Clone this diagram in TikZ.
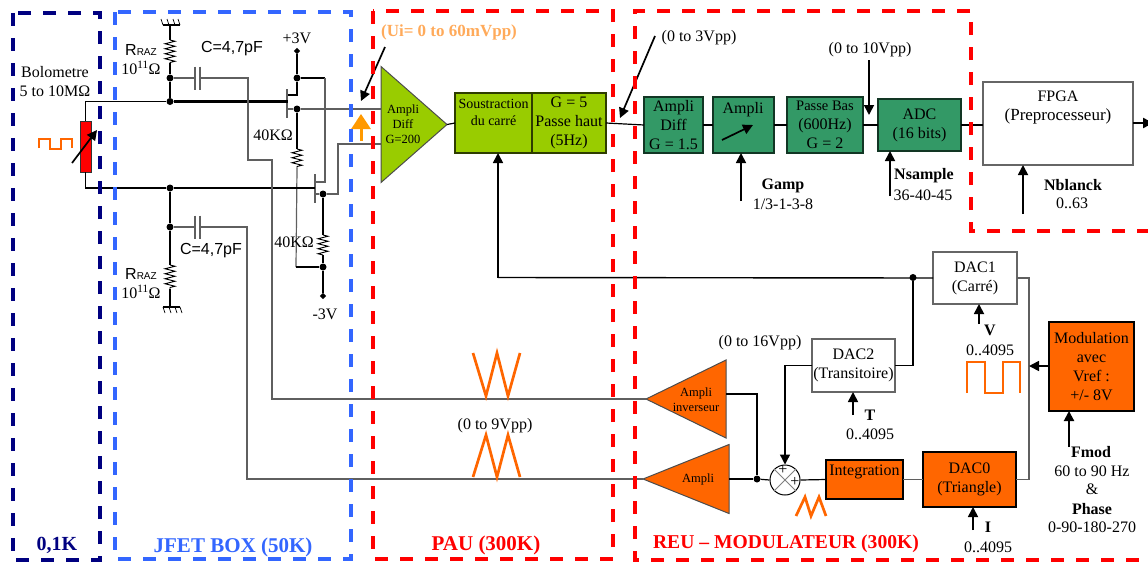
\documentclass[tikz,border=0pt]{standalone}
\usepackage{fontspec}
\setmainfont{Liberation Serif}
\newfontfamily\arialfont{Liberation Sans}
\usetikzlibrary{arrows.meta, positioning, calc, shapes.geometric}
\usetikzlibrary{decorations.pathmorphing}
\definecolor{navyb}{RGB}{0,0,128}
\definecolor{blueb}{RGB}{51,102,255}
\definecolor{limeb}{RGB}{153,204,0}
\definecolor{seag}{RGB}{51,153,102}
\definecolor{orangeb}{RGB}{255,102,0}
\definecolor{amber}{RGB}{255,153,0}
\definecolor{peach}{RGB}{255,170,90}
\definecolor{wire}{RGB}{95,95,95}
\tikzset{
  txt/.style={inner sep=0pt, align=center, font=\fontsize{16}{19}\selectfont},
  txttiny/.style={txt, font=\fontsize{12.5}{15}\selectfont},
  txtb/.style={txt, font=\fontsize{16}{19}\selectfont\bfseries},
  boxlabel/.style={txt, font=\fontsize{21}{23}\selectfont\bfseries},
  block/.style={draw=black!75, line width=1.2pt, rectangle, inner sep=0pt, outer sep=0pt,
    align=center, font=\fontsize{16}{19}\selectfont},
  limeblock/.style={block, fill=limeb, draw=black!70!limeb},
  greenblock/.style={block, fill=seag, draw=black!65!seag},
  orangeblock/.style={block, fill=orangeb, draw=black},
  whiteblock/.style={block, fill=white, draw=black!60},
  tri/.style={isosceles triangle, isosceles triangle stretches, draw=black!70,
    line width=1pt, inner sep=0pt, outer sep=0pt, anchor=apex},
  dashbox/.style={line width=3.6pt, dash pattern=on 13pt off 12pt},
  dot/.style={circle, fill=black, inner sep=0pt, minimum size=7pt},
  rail/.style={diamond, fill=black, inner sep=0pt, minimum size=6.5pt},
  thin wire/.style={line width=1.2pt, draw=wire},
  fine/.style={line width=1.2pt, draw=black},
  heavy/.style={line width=2.2pt, draw=black},
  arrow/.style={-{Triangle[length=10pt,width=10pt]}, line width=1.7pt},
  sawtooth/.style={line width=2.7pt, draw=orangeb},
  resist/.style={decorate, decoration={zigzag, segment length=5pt, amplitude=5pt}, line width=.9pt}
}

\begin{document}
\begin{tikzpicture}[x=1pt, y=-1pt]
\useasboundingbox (0,0) rectangle (1148,563);

% --- Chain of the PAU ---
\node[tri, fill=limeb, minimum height=66pt, minimum width=116pt] (diff) at (447,124.5) {};
\node[txttiny] (difftxt) at (403,124) {Ampli\\Diff\\G=200};
\node[limeblock, minimum width=77pt, minimum height=60pt, anchor=north west, font=\fontsize{14}{17}\selectfont]
  (sous) at (455,93) {Soustraction\\du carré\\\strut};
\node[limeblock, minimum width=74pt, minimum height=60pt, right=0pt of sous] (gfive) {G = 5\\Passe haut\\(5Hz)};

% --- Chain of the REU ---
\node[greenblock, minimum width=59pt, minimum height=56pt, anchor=north west] (adiff) at (644,97) {Ampli\\Diff\\G = 1.5};
\node[greenblock, minimum width=61pt, minimum height=56pt, right=10pt of adiff] (ampli) {};
\node[txt] (amplitxt) at (743,110) {Ampli};
\node[greenblock, minimum width=76pt, minimum height=56pt, right=13pt of ampli] (bas) {{\fontsize{14.5}{19}\selectfont Passe Bas}\\(600Hz)\\G = 2};
\node[greenblock, minimum width=83pt, minimum height=52pt, right=15pt of bas] (adc) {ADC\\(16 bits)};
\node[whiteblock, minimum width=150pt, minimum height=83pt, anchor=north west] (fpga) at (983,82) {};
\node[txt] (fpgatxt) at (1058,108) {FPGA\\\fontsize{17}{19}\selectfont(Preprocesseur)};
\coordinate (fpgaout) at (1153,123);

% --- Modulation ---
\node[whiteblock, minimum width=84pt, minimum height=52pt, anchor=north west] (dacone) at (933,252) {DAC1\\(Carré)};
\node[whiteblock, minimum width=83pt, minimum height=53pt, anchor=north west] (dactwo) at (812,339) {DAC2\\(Transitoire)};
\node[orangeblock, minimum width=93pt, minimum height=55pt, anchor=north west] (daczero) at (923,452) {DAC0\\(Triangle)};
\node[orangeblock, minimum width=77pt, minimum height=39pt, anchor=north west] (integ) at (826,460) {Integration\\[-6pt]\strut};
\node[orangeblock, minimum width=85pt, minimum height=89pt, anchor=north west] (modul) at (1049,322) {Modulation\\avec\\Vref :\\+/- 8V};
\node[circle, draw=black, line width=1pt, fill=white, minimum size=30pt, inner sep=0pt] (mix) at (785,480) {};
\draw[line width=.8pt, draw=black!50] (mix.45) -- (mix.225) (mix.135) -- (mix.315);
\node[txt] (plusa) at (783,470) {+};
\node[txt] (plusb) at (795,482) {+};
\node[tri, fill=orangeb, shape border rotate=180, minimum height=80pt, minimum width=78pt] (inv) at (646,399) {};
\node[txttiny] (invtxt) at (696,400) {Ampli\\inverseur};
\node[tri, fill=orangeb, shape border rotate=180, minimum height=86pt, minimum width=69pt] (ampl) at (643,479) {};
\node[txttiny] (ampltxt) at (698,479) {Ampli};

% --- Bolometer ---
\node[draw=black!80, fill=red, line width=1pt, minimum width=11pt, minimum height=51pt, inner sep=0pt, outer sep=0pt] (bolo) at (85.5,146.5) {};
\node[txt] (bolotxt) at (55,82) {Bolometre\\5 to 10MΩ};
\coordinate (boloa) at (72,163);
\coordinate (bolob) at (97,130);

% --- JFET box junctions ---
\node[dot] (ntop) at (170,78) {};
\node[dot] (gtop) at (170,101.5) {};
\node[dot] (gbot) at (170,188) {};
\node[dot] (nbot) at (170,227) {};
\node[dot] (dra) at (297,78) {};
\node[dot] (soa) at (297,109) {};
\node[dot] (sob) at (323,194) {};
\node[dot] (rlo) at (323,267) {};
\node[rail] (railp) at (297,51) {};
\node[rail] (railm) at (323,296) {};
\coordinate (gateone) at (288,101.5);
\coordinate (gatetwo) at (315,188);
\coordinate (resa) at (170,40);
\coordinate (resb) at (170,63);
\coordinate (resc) at (170,265);
\coordinate (resd) at (170,289);
\coordinate (rese) at (297,149);
\coordinate (resf) at (297,168);
\coordinate (resg) at (323,235);
\coordinate (resh) at (323,255);
\coordinate (gndt) at (170,25);
\coordinate (gndb) at (170,307);
\coordinate (capa) at (195,78);
\coordinate (capb) at (200,78);
\coordinate (capc) at (195,227);
\coordinate (capd) at (200,227);
\coordinate (fbk) at (498,277.5);

% --- Resistors and capacitors ---
\draw[fine] (gndt) -- (resa);
\draw[resist] (resa) -- (resb);
\draw[heavy] (resb) -- (ntop);
\draw[heavy] (ntop) -- (gtop);
\draw[heavy] (gbot) -- (nbot);
\draw[heavy] (nbot) -- (resc);
\draw[resist] (resc) -- (resd);
\draw[fine] (resd) -- (gndb);
\draw[fine] ($(gndt)+(-7,0)$) -- ($(gndt)+(10,0)$);
\foreach \dx in {-7,-1,5,10} \draw[fine, line width=.7pt] ($(gndt)+(\dx,0)$) -- ++(-2,-6);
\draw[fine] ($(gndb)+(-7,0)$) -- ($(gndb)+(10,0)$);
\foreach \dx in {-7,-1,5,10} \draw[fine, line width=.7pt] ($(gndb)+(\dx,0)$) -- ++(2,6);
\draw[thin wire] (ntop) -- (capa);
\draw[thin wire] (nbot) -- (capc);
\foreach \c in {capa,capb,capc,capd} \draw[thin wire] ($(\c)+(0,-11.5)$) -- ($(\c)+(0,11.5)$);

% --- JFET ---
\draw[thin wire] (287,89) -- (287,118);
\draw[thin wire] (315,174) -- (315,203);
\draw[heavy, line width=1.6pt] (288,95) -| (dra);
\draw[thin wire] (288,109) -- (soa);
\draw[heavy, line width=1.6pt] (railp) -- (dra);
\draw[heavy] (dra) -- (325,78);
\draw[thin wire] (325,78) |- (316,182);
\draw[thin wire] (315,194) -- (sob);
\draw[heavy] (soa) -- (rese);
\draw[resist] (rese) -- (resf);
\draw[thin wire] (resf) -- (296,267);
\draw[heavy] (296,267) -- (rlo);
\draw[heavy] (sob) -- (resg);
\draw[resist] (resg) -- (resh);
\draw[heavy] (resh) -- (rlo);
\draw[heavy, line width=1.6pt] (rlo) -- (railm);

% --- Links through the boxes ---
\draw[fine] (bolo.north) |- (gtop);
\draw[heavy] (gtop) -- (gateone);
\draw[fine] (bolo.south) |- (gbot);
\draw[fine] (gbot) -- (gatetwo);
\draw[thin wire] (soa) -- (381,109);
\draw[thin wire] (sob) -- (338,194) |- (381,144);
\draw[thin wire] (capb) -- (248,78) |- (272,160) |- (inv.apex);
\draw[thin wire] (capd) -- (247,227) |- (ampl.apex);
\draw[fine] (diff.apex) -- (sous.west);
\draw[fine] (gfive.east) -- (adiff.west);
\draw[fine] (adiff) -- (ampli);
\draw[fine] (ampli) -- (bas);
\draw[fine] (bas) -- (adc);
\draw[fine] (adc.east) -- (fpga.west |- adc.east);
\draw[arrow, line width=2.4pt] (fpga.east |- fpgaout) -- (fpgaout);
\draw[fine, line width=1.4pt] (dacone.west) -- (fbk);
\draw[arrow] (fbk) -- (498,153);
\node[dot] (junc) at (913,277.5) {};
\draw[fine] (dactwo.east) -| (junc);
\draw[thin wire] (dacone.east) -- (1029,278) |- (daczero.east);
\draw[arrow, line width=1.3pt] (dactwo.west) -| (mix.north);
\draw[fine] (mix.east) -- (integ.west);
\draw[thin wire] (integ.east) -- (daczero.west);
\node[dot] (juncb) at (757,479) {};
\draw[heavy, line width=1.4pt] (ampl.east |- juncb) -- (juncb);
\draw[fine] (juncb) -- (mix.west);
\draw[fine] (726,394) -| (juncb);
\draw[arrow] (modul.west |- 0,366) -- (1029,366);

% --- Control arrows ---
\draw[arrow] (741,201) -- (ampli.south -| 741,0);
\draw[arrow] (890,196) -- (adc.south -| 890,0);
\draw[arrow] (1023,214) -- (fpga.south -| 1023,0);
\draw[arrow] (869,60) -- (869,115);
\draw[arrow] (853,415) -- (dactwo.south -| 853,0);
\draw[arrow] (979,324) -- (dacone.south -| 979,0);
\draw[arrow] (973,530) -- (daczero.south -| 973,0);
\draw[arrow, line width=2pt] (1069,447) -- (modul.south -| 1069,0);
\draw[arrow] (722,140) -- (753,125);
\draw[arrow] (boloa) -- (bolob);
\draw[arrow] (385,47) -- (361,101);
\draw[arrow] (655,36) -- (620,118);
\draw[-{Triangle[length=15pt,width=19pt]}, line width=3pt, draw=amber] (361,141) -- (361,114);

% --- Waveforms ---
\draw[sawtooth] (39,148) |- (50,139) |- (61,149) |- (72,139) -- (72,148);
\draw[sawtooth] (967,393) |- (985,362) |- (1003,393) |- (1020,362) -- (1020,393);
\draw[sawtooth] (473,353) -- (486,396) -- (497,353) -- (508,396) -- (520,353);
\draw[sawtooth] (473,477) -- (486,435) -- (497,477) -- (508,435) -- (520,477);
\draw[sawtooth] (796,516) -- (805,497) -- (811,516) -- (819,497) -- (826,516);

% --- Labels ---
\node[txt] (raza) at (141,60) {{\arialfont R\fontsize{10}{12}\selectfont RAZ}\\10\textsuperscript{11}Ω};
\node[txt] (razb) at (141,284) {{\arialfont R\fontsize{10}{12}\selectfont RAZ}\\10\textsuperscript{11}Ω};
\node[txt, font=\fontsize{16}{19}\arialfont] (capta) at (232,49) {C=4,7pF};
\node[txt, font=\fontsize{16}{19}\arialfont] (captb) at (211,251) {C=4,7pF};
\node[txt] (plusv) at (297,38) {+3V};
\node[txt] (minusv) at (325,314) {-3V};
\node[txt] (kohma) at (273,135) {40KΩ};
\node[txt] (kohmb) at (294,242) {40KΩ};
\node[txt, font=\fontsize{17}{19}\selectfont\bfseries, text=peach] (uitxt) at (449,32) {(Ui= 0 to 60mVpp)};
\node[txt] (vthree) at (699,38) {(0 to 3Vpp)};
\node[txt] (vten) at (870,50) {(0 to 10Vpp)};
\node[txt] (vsixteen) at (760,343) {(0 to 16Vpp)};
\node[txt] (vnine) at (495,426) {(0 to 9Vpp)};
\node[txtb] (gamp) at (783,186) {Gamp};
\node[txt] (gampv) at (783,204) {1/3-1-3-8};
\node[txtb] (nsam) at (924,176) {Nsample};
\node[txt] (nsamv) at (923,195) {36-40-45};
\node[txtb] (nbla) at (1073,185) {Nblanck};
\node[txt] (nblav) at (1072,203) {0..63};
\node[txtb] (ttxt) at (870,415) {T};
\node[txt] (ttxtv) at (870,434) {0..4095};
\node[txtb] (vtxt) at (990,330) {V};
\node[txt] (vtxtv) at (990,350) {0..4095};
\node[txtb] (itxt) at (988,527) {I};
\node[txt] (itxtv) at (988,547) {0..4095};
\node[txtb] (fmod) at (1091,452) {Fmod};
\node[txt] (fmodv) at (1092,471) {60 to 90 Hz};
\node[txt] (amp) at (1092,489) {\&};
\node[txtb] (phase) at (1092,509) {Phase};
\node[txt] (phasev) at (1092,527) {0-90-180-270};

% --- Dashed boxes ---
\draw[dashbox, draw=navyb] (13,13) rectangle (100,560);
\draw[dashbox, draw=blueb] (115,12) rectangle (351,559);
\draw[dashbox, draw=red] (373,11) rectangle (613,559);
\draw[dashbox, draw=red] (1150,231) -| (971,11) -| (635,560) -- (1150,560);
\node[boxlabel, font=\fontsize{20}{22}\selectfont\bfseries, text=navyb] (zerotxt) at (57,545) {0,1K};
\node[boxlabel, text=blueb] (jfettxt) at (233,547) {JFET BOX (50K)};
\node[boxlabel, text=red] (pautxt) at (486,545) {PAU (300K)};
\node[boxlabel, text=red, font=\fontsize{19.6}{21}\selectfont\bfseries] (reutxt) at (786,544) {REU -- MODULATEUR (300K)};
\end{tikzpicture}
\end{document}
